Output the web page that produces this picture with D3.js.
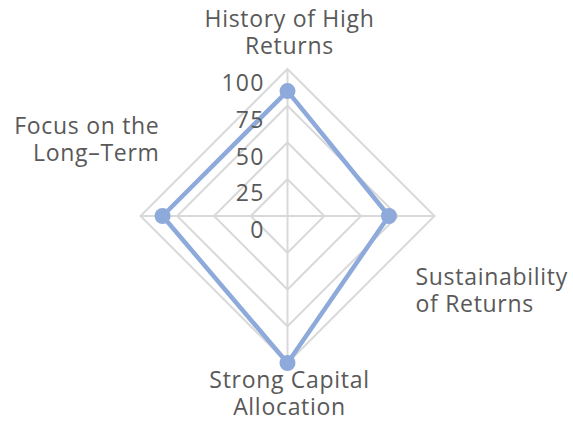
<!DOCTYPE html>
<html>
<head>
<meta charset="utf-8">
<script src="https://cdn.jsdelivr.net/npm/d3@7"></script>
<style>
    body { margin: 0; background: #fff; }
    svg { display: block; font-family: "Open Sans", sans-serif; }
</style>
</head>
<body>
<div id="chart"></div>
<script>
// Chart data
const categories = [
    ["History of High", "Returns"],
    ["Sustainability", "of Returns"],
    ["Strong Capital", "Allocation"],
    ["Focus on the", "Long\u2013Term"]
];
const seriesValues = [85, 69, 100, 85];
const tickValues = [0, 25, 50, 75, 100];

const width = 573, height = 423;
const center = { x: 287.5, y: 216 };
const radius = 147;

const colors = {
    grid: "#d9d9d9",
    text: "#595959",
    series: "#8eaadb"
};

// Where each category label sits relative to its outer vertex
// (the spreadsheet layout pushes side labels off-axis)
const labelLayout = [
    { anchor: "middle", dx: 2, dy: -42 },
    { anchor: "start", dx: -19, dy: 69 },
    { anchor: "middle", dx: 2, dy: 25 },
    { anchor: "end", dx: 19, dy: -82 }
];

const svg = d3.select("#chart").append("svg")
    .attr("width", width)
    .attr("height", height);

const g = svg.append("g")
    .attr("transform", `translate(${center.x}, ${center.y})`);

const r = d3.scaleLinear().domain([0, 100]).range([0, radius]);

// angle for each category, clockwise from the top
const angle = d3.scalePoint()
    .domain(d3.range(categories.length))
    .range([0, 2 * Math.PI - 2 * Math.PI / categories.length]);

function point(i, v) {
    let a = angle(i);
    return [Math.sin(a) * r(v), -Math.cos(a) * r(v)];
}

// rings
g.selectAll("polygon.ring")
    .data(tickValues.filter(d => d > 0))
    .join("polygon")
    .attr("class", "ring")
    .attr("points", d => categories.map((c, i) => point(i, d).join(",")).join(" "))
    .attr("fill", "none")
    .attr("stroke", colors.grid)
    .attr("stroke-width", 2);

// spokes
g.selectAll("line.spoke")
    .data(categories)
    .join("line")
    .attr("class", "spoke")
    .attr("x1", 0).attr("y1", 0)
    .attr("x2", (d, i) => point(i, 100)[0])
    .attr("y2", (d, i) => point(i, 100)[1])
    .attr("stroke", colors.grid)
    .attr("stroke-width", 2);

// series
const line = d3.line().curve(d3.curveLinearClosed);

g.append("path")
    .datum(seriesValues.map((v, i) => point(i, v)))
    .attr("d", line)
    .attr("fill", "none")
    .attr("stroke", colors.series)
    .attr("stroke-width", 4.5)
    .attr("stroke-linejoin", "round");

g.selectAll("circle.marker")
    .data(seriesValues)
    .join("circle")
    .attr("class", "marker")
    .attr("cx", (d, i) => point(i, d)[0])
    .attr("cy", (d, i) => point(i, d)[1])
    .attr("r", 8)
    .attr("fill", colors.series);

// value axis labels
g.selectAll("text.tick")
    .data(tickValues)
    .join("text")
    .attr("class", "tick")
    .attr("x", -23)
    .attr("y", d => -r(d) + 22)
    .attr("text-anchor", "end")
    .attr("fill", colors.text)
    .style("font-size", "23px")
    .style("letter-spacing", "1.2px")
    .text(d => d);

// category labels
categories.forEach((lines, i) => {
    let [x, y] = point(i, 100);
    let lay = labelLayout[i];
    let t = g.append("text")
        .attr("text-anchor", lay.anchor)
        .attr("fill", colors.text)
        .style("font-size", "23px")
        .style("letter-spacing", "0.7px");
    lines.forEach((s, k) => {
        t.append("tspan")
            .attr("x", x + lay.dx)
            .attr("y", y + lay.dy + k * 26.5)
            .text(s);
    });
});
</script>
</body>
</html>
